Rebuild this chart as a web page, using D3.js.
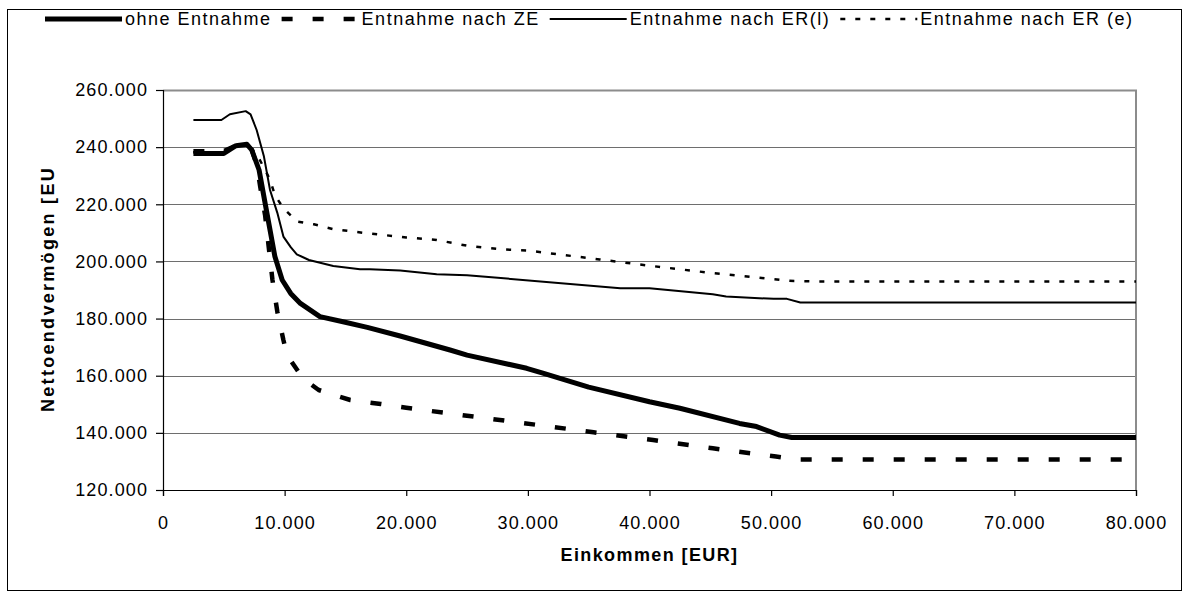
<!DOCTYPE html>
<html>
<head>
<meta charset="utf-8">
<script src="https://cdn.jsdelivr.net/npm/d3@7"></script>
<style>
    body { margin: 0; background: #fff; }
    #chart-area { width: 1188px; height: 597px; }
    text { font-family: "Liberation Sans", Arial, sans-serif; fill: #000; }
</style>
</head>
<body>
<div id="chart-area"></div>
<script>
// series names (legend order)
var seriesNames = ["ohne Entnahme", "Entnahme nach ZE", "Entnahme nach ER(l)", "Entnahme nach ER (e)"];

// income [EUR] and end wealth [EUR] per series
var ohneX = [2500, 5000, 6000, 6900, 7300, 7900, 8400, 8800, 9200, 9800, 10500, 11300, 12900, 14800, 16800, 19500, 23600, 25000, 29900, 31300, 35000, 40000, 42500, 47400, 48800, 50700, 51700, 80000];
var ohneY = [237800, 237800, 240500, 241000, 239000, 232000, 220300, 211000, 201700, 193500, 188800, 185300, 180700, 178900, 176900, 173900, 169000, 167200, 162600, 160800, 156000, 150900, 148600, 143300, 142200, 139200, 138400, 138400];

var zeX = [2500, 5000, 6000, 6900, 7300, 7700, 8000, 8400, 9000, 9400, 9900, 10200, 11500, 12800, 15400, 17900, 20000, 23000, 27700, 35400, 40300, 45200, 50400, 52000, 80000];
var zeY = [238600, 238600, 240500, 241000, 239000, 234000, 226000, 216000, 193500, 182400, 172500, 167200, 159100, 155000, 151500, 150100, 148800, 147100, 144500, 140200, 137500, 134600, 131700, 130700, 130700];

var erlX = [2500, 4800, 5500, 6800, 7200, 7700, 8300, 8800, 9400, 9900, 10500, 11000, 12000, 14000, 16200, 17000, 19500, 22500, 25000, 37600, 40000, 45200, 46300, 50200, 51300, 52400, 80000];
var erlY = [249500, 249500, 251500, 252600, 251500, 246000, 236700, 225000, 217000, 208700, 205000, 202500, 200500, 198400, 197300, 197300, 196800, 195500, 195200, 190600, 190600, 188500, 187700, 186900, 186900, 185600, 185600];

var ereX = [2500, 5000, 6000, 6900, 7300, 7900, 8400, 8800, 9200, 9900, 11000, 12400, 14000, 16500, 20000, 22500, 25000, 28000, 30000, 35900, 40000, 45000, 47000, 51500, 53500, 80000];
var ereY = [238200, 238200, 240500, 241000, 239500, 236000, 232000, 228500, 223200, 218600, 214000, 213000, 211300, 210000, 208400, 207500, 205500, 204200, 203800, 200700, 198500, 196000, 195200, 193200, 193000, 193000];

// axis ticks
var xTicks = [0, 10000, 20000, 30000, 40000, 50000, 60000, 70000, 80000];
var yTicks = [120000, 140000, 160000, 180000, 200000, 220000, 240000, 260000];

function init() {
    var svgWidth = 1188;
    var svgHeight = 597;

    //margins
    var margin = {
        top: 90,
        right: 52,
        bottom: 107,
        left: 163
    };

    var chartWidth = svgWidth - margin.left - margin.right;
    var chartHeight = svgHeight - margin.top - margin.bottom;

    var svg = d3.select("#chart-area")
        .append("svg")
        .attr("width", svgWidth)
        .attr("height", svgHeight)

    // outer frame
    svg.append("rect")
        .attr("x", 7.5)
        .attr("y", 9.5)
        .attr("width", 1174)
        .attr("height", 581)
        .attr("fill", "#fff")
        .attr("stroke", "#000")
        .attr("stroke-width", 1)

    var deFormat = d3.formatLocale({decimal: ",", thousands: ".", grouping: [3], currency: ["", " €"]}).format(",.0f")

    var xScale = d3.scaleLinear()
        .domain([0, 80000])
        .range([0, chartWidth])

    var yScale = d3.scaleLinear()
        .domain([120000, 260000])
        .range([chartHeight, 0])

    var chartGroup = svg.append("g")
        .attr("id", "chart-group")
        .attr("transform", "translate(" + margin.left + "," + margin.top + ")")

    // gridlines
    chartGroup.append("g")
        .selectAll("line")
        .data(yTicks.slice(1, -1))
        .enter()
        .append("line")
        .attr("x1", 0)
        .attr("x2", chartWidth)
        .attr("y1", d => Math.round(yScale(d)) + 0.5)
        .attr("y2", d => Math.round(yScale(d)) + 0.5)
        .attr("stroke", "#6e6e6e")
        .attr("stroke-width", 1)

    // plot area border (top/right in grey)
    chartGroup.append("path")
        .attr("d", "M0,0.5H" + chartWidth + "V" + chartHeight)
        .attr("fill", "none")
        .attr("stroke", "#8c8c8c")
        .attr("stroke-width", 2)

    // lines
    var allSeries = [
        {name: seriesNames[0], xs: ohneX, ys: ohneY, width: 5, dash: null},
        {name: seriesNames[1], xs: zeX, ys: zeY, width: 4.5, dash: "11,20"},
        {name: seriesNames[2], xs: erlX, ys: erlY, width: 2, dash: null},
        {name: seriesNames[3], xs: ereX, ys: ereY, width: 2.5, dash: "5,10"}
    ]

    var line = d3.line()
        .x(d => xScale(d[0]))
        .y(d => yScale(d[1]))

    var lineGroup = chartGroup.append("g")
    allSeries.slice().reverse().forEach(s => {
        var pts = s.xs.map((x, i) => [x, s.ys[i]])
        lineGroup.append("path")
            .datum(pts)
            .attr("d", line)
            .attr("fill", "none")
            .attr("stroke", "#000")
            .attr("stroke-width", s.width)
            .attr("stroke-dasharray", s.dash)
            .attr("stroke-linejoin", "round")
    })

    // axes
    var leftAxis = d3.axisLeft(yScale)
        .tickValues(yTicks)
        .tickSize(7)
        .tickPadding(8)
        .tickFormat(deFormat)

    var botAxis = d3.axisBottom(xScale)
        .tickValues(xTicks)
        .tickSize(6)
        .tickPadding(20)
        .tickFormat(deFormat)

    var yAxisG = chartGroup.append("g")
        .attr("id", "y-axis")
        .call(leftAxis)

    var xAxisG = chartGroup.append("g")
        .attr("id", "x-axis")
        .attr("transform", `translate(0, ${chartHeight})`)
        .call(botAxis)

    svg.selectAll(".domain, .tick line")
        .attr("stroke", "#000")
        .attr("stroke-width", 1.2)

    svg.selectAll(".tick text")
        .attr("font-family", "Liberation Sans, Arial, sans-serif")
        .attr("font-size", "18px")
        .style("letter-spacing", "1.1px")
        .attr("fill", "#000")

    // axis titles
    svg.append("text")
        .attr("x", margin.left + chartWidth / 2)
        .attr("y", 561)
        .attr("text-anchor", "middle")
        .attr("font-size", "18px")
        .attr("font-weight", "bold")
        .style("letter-spacing", "1.4px")
        .text("Einkommen [EUR]")

    svg.append("text")
        .attr("transform", "translate(54,289) rotate(-90)")
        .attr("text-anchor", "middle")
        .attr("font-size", "18px")
        .attr("font-weight", "bold")
        .style("letter-spacing", "2.3px")
        .text("Nettoendvermögen [EU")

    // legend
    var legend = svg.append("g").attr("id", "legend")
    var lx = 45
    var ly = 19
    allSeries.forEach(s => {
        legend.append("line")
            .attr("x1", lx)
            .attr("x2", lx + 77)
            .attr("y1", ly)
            .attr("y2", ly)
            .attr("stroke", "#000")
            .attr("stroke-width", s.width)
            .attr("stroke-dasharray", s.dash)
        var t = legend.append("text")
            .attr("x", lx + 80)
            .attr("y", ly + 6)
            .attr("font-size", "18px")
            .style("letter-spacing", "1.5px")
            .text(s.name)
        lx = lx + 80 + t.node().getComputedTextLength() + 10
    })
}

window.addEventListener('load', init, false)
</script>
</body>
</html>
